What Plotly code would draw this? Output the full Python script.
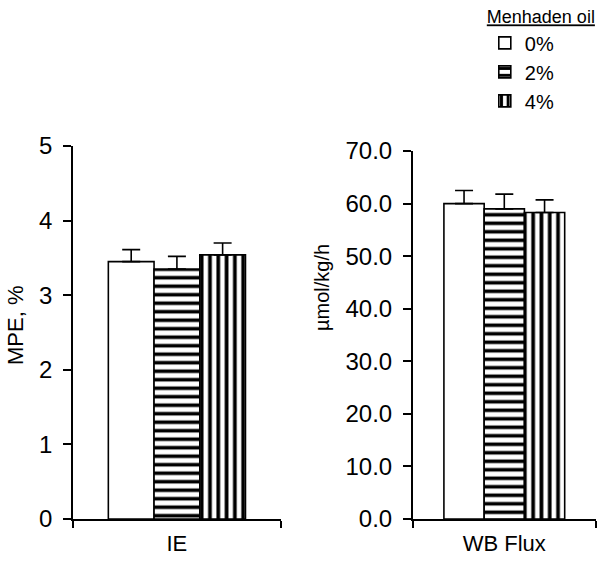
import plotly.graph_objects as go

levels = ["0%", "2%", "4%"]
ie_values = [3.45, 3.35, 3.54]
ie_errors = [0.16, 0.17, 0.16]
wb_values = [60.0, 59.0, 58.3]
wb_errors = [2.5, 2.8, 2.4]
ie_ticks = [0, 1, 2, 3, 4, 5]
wb_ticks = [0, 10, 20, 30, 40, 50, 60, 70]

patterns = [
    dict(shape="", bgcolor="white"),
    dict(shape="-", fgcolor="black", bgcolor="white", size=8.5, solidity=0.42, fillmode="replace"),
    dict(shape="|", fgcolor="black", bgcolor="white", size=8.3, solidity=0.45, fillmode="replace"),
]

FONT = "Liberation Sans, Arial, sans-serif"

fig = go.Figure()
for i, lev in enumerate(levels):
    common = dict(
        name=lev,
        marker=dict(color="white", line=dict(color="black", width=1.6), pattern=patterns[i]),
        legendgroup=lev,
    )
    fig.add_trace(go.Bar(
        x=[0], y=[ie_values[i]], xaxis="x", yaxis="y", showlegend=True,
        error_y=dict(type="data", array=[ie_errors[i]], arrayminus=[0], symmetric=False,
                     color="black", thickness=1.6, width=9),
        **common))
    fig.add_trace(go.Bar(
        x=[0], y=[wb_values[i]], xaxis="x2", yaxis="y2", showlegend=False,
        error_y=dict(type="data", array=[wb_errors[i]], arrayminus=[0], symmetric=False,
                     color="black", thickness=1.6, width=9),
        **common))

xcommon = dict(type="linear", range=[-0.5, 0.5], tickvals=[-0.5, 0.5], ticktext=["", ""],
               ticks="outside", ticklen=7, tickwidth=1.6, tickcolor="black",
               showline=True, linecolor="black", linewidth=1.6, showgrid=False,
               zeroline=False, fixedrange=True, automargin=False)
ycommon = dict(ticks="outside", ticklen=8, tickwidth=1.6, tickcolor="black",
               showline=True, linecolor="black", linewidth=1.6, showgrid=False,
               zeroline=False, tickfont=dict(size=24, color="black"), automargin=False,
               ticklabelstandoff=6)

fig.update_layout(
    width=600, height=561,
    margin=dict(l=0, r=0, t=0, b=0, autoexpand=False),
    paper_bgcolor="white", plot_bgcolor="white",
    font=dict(family=FONT, color="black", size=22),
    barmode="group", bargap=0.34,
    xaxis=dict(domain=[0.1217, 0.468], anchor="y",
               title=dict(text="IE", font=dict(size=22), standoff=4), **xcommon),
    xaxis2=dict(domain=[0.688, 0.993], anchor="y2",
                title=dict(text="WB Flux", font=dict(size=22), standoff=4), **xcommon),
    yaxis=dict(domain=[0.0749, 0.7398], anchor="x", range=[0, 5], tickvals=ie_ticks, **ycommon),
    yaxis2=dict(domain=[0.0749, 0.7308], anchor="x2", range=[0, 70], tickvals=wb_ticks,
                tickformat=".1f", **ycommon),
    legend=dict(
        x=0.808, y=1.0, xanchor="left", yanchor="top",
        title=dict(text="<u>Menhaden oil</u>", font=dict(size=18), side="top"),
        font=dict(size=20), bgcolor="rgba(0,0,0,0)", tracegroupgap=0, itemwidth=30,
    ),
    annotations=[
        dict(text="MPE, %", textangle=-90, xref="paper", yref="paper",
             x=15 / 600, y=1 - 326 / 561, xanchor="center", yanchor="middle",
             showarrow=False, font=dict(size=22)),
        dict(text="µmol/kg/h", textangle=-90, xref="paper", yref="paper",
             x=322 / 600, y=1 - 288 / 561, xanchor="center", yanchor="middle",
             showarrow=False, font=dict(size=20)),
    ],
)

fig.write_html("out.html", config={"displayModeBar": False},
               post_script="document.body.style.margin='0';document.body.style.overflow='hidden';")
